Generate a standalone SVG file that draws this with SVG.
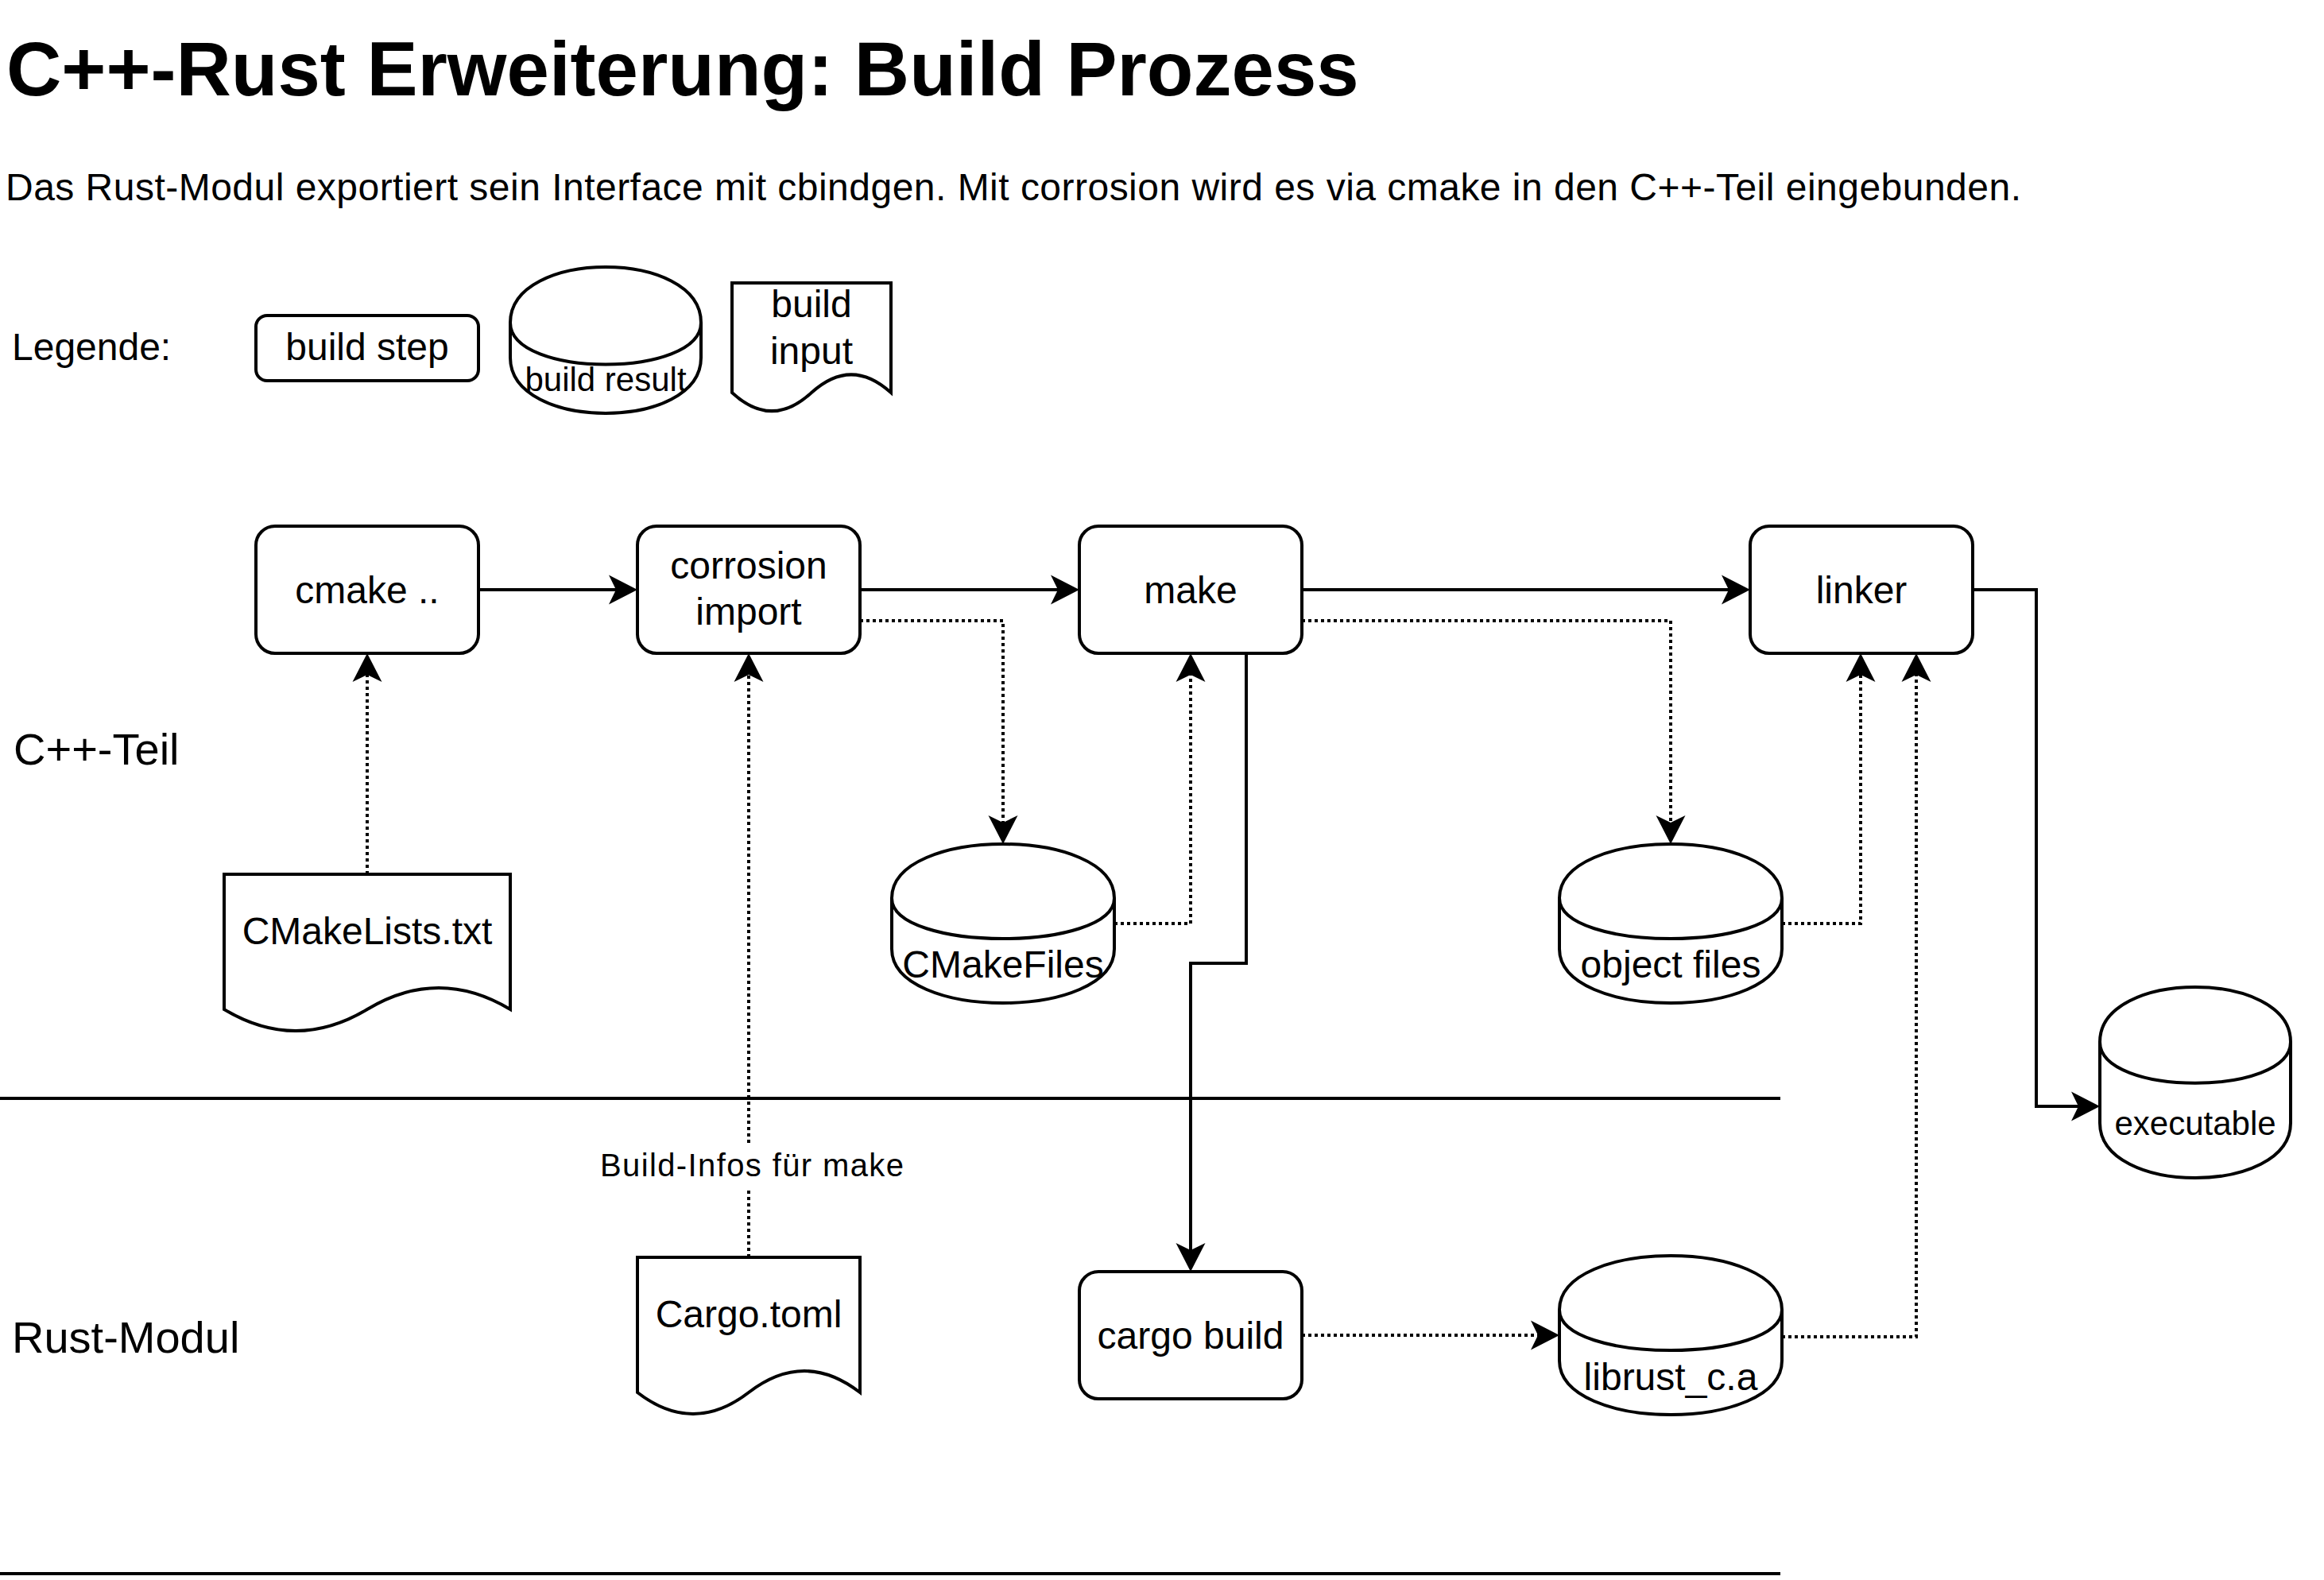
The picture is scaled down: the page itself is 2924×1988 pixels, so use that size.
<svg xmlns="http://www.w3.org/2000/svg" width="2924" height="1988" viewBox="0 0 2924 1988">
<style>
text{font-family:"Liberation Sans",Arial,Helvetica,sans-serif;fill:#000}
.t48{font-size:48px}
.t42{font-size:42px}
.lane{font-size:56px}
.c{text-anchor:middle}
.shape{fill:#fff;stroke:#000;stroke-width:4}
.edge{fill:none;stroke:#000;stroke-width:4}
.dot{stroke-dasharray:4 4}
</style>
<defs>
<marker id="arr" markerUnits="userSpaceOnUse" markerWidth="38" markerHeight="38" refX="9" refY="18.5" orient="auto" overflow="visible">
<path d="M0,0 L36,18.5 L0,37 L9,18.5 Z" fill="#000"/>
</marker>
</defs>
<rect width="2924" height="1988" fill="#fff"/>
<g id="header">
<text x="8" y="120" style="font-size:96px;font-weight:bold">C++-Rust Erweiterung: Build Prozess</text>
<text x="7" y="252" class="t48" textLength="2536" lengthAdjust="spacing">Das Rust-Modul exportiert sein Interface mit cbindgen. Mit corrosion wird es via cmake in den C++-Teil eingebunden.</text>
</g>
<g id="legend">
<text x="15" y="453" class="t48">Legende:</text>
<g id="legend-step"><rect x="322" y="397" width="280" height="82" rx="14" class="shape"/><text x="462" y="453" class="t48 c">build step</text></g>
<g id="legend-result"><path class="shape" d="M642,406 C642,312.67 882,312.67 882,406 L882,450 C882,543.33 642,543.33 642,450 Z M642,406 C642,476 882,476 882,406"/><text x="762" y="492" class="t42 c">build result</text></g>
<g id="legend-input"><path class="shape" d="M921,356 H1121 V494 Q1071,448.6 1021,494 Q971,540.4 921,494 Z"/><text x="1021" y="399" class="t48 c">build</text><text x="1021" y="458" class="t48 c">input</text></g>
</g>
<g id="lanes">
<text x="17" y="962" class="lane">C++-Teil</text>
<text x="15" y="1702" class="lane">Rust-Modul</text>
<path class="edge" d="M0,1382 H2240 M0,1980 H2240"/>
</g>
<g id="connectors">
<path class="edge" d="M602,742 H775" marker-end="url(#arr)"/>
<path class="edge" d="M1082,742 H1331" marker-end="url(#arr)"/>
<path class="edge" d="M1638,742 H2175" marker-end="url(#arr)"/>
<path class="edge" d="M1568,822 V1212 H1498 V1573" marker-end="url(#arr)"/>
<path class="edge" d="M2482,742 H2562 V1392 H2615" marker-end="url(#arr)"/>
<path class="edge dot" d="M462,1100 V849" marker-end="url(#arr)"/>
<path class="edge dot" d="M942,1582 V849" marker-end="url(#arr)"/>
<path class="edge dot" d="M1082,781 H1262 V1035" marker-end="url(#arr)"/>
<path class="edge dot" d="M1402,1162 H1498 V849" marker-end="url(#arr)"/>
<path class="edge dot" d="M1638,781 H2102 V1035" marker-end="url(#arr)"/>
<path class="edge dot" d="M2242,1162 H2341 V849" marker-end="url(#arr)"/>
<path class="edge dot" d="M2242,1682 H2411 V849" marker-end="url(#arr)"/>
<path class="edge dot" d="M1638,1680 H1935" marker-end="url(#arr)"/>
<rect x="752" y="1441" width="390" height="53" fill="#fff"/>
<text x="946" y="1480" class="c" style="font-size:40px" textLength="382" lengthAdjust="spacing">Build-Infos für make</text>
</g>
<g id="cmake"><rect x="322" y="662" width="280" height="160" rx="24" class="shape"/><text x="462" y="759" class="t48 c">cmake ..</text></g>
<g id="corrosion"><rect x="802" y="662" width="280" height="160" rx="24" class="shape"/><text x="942" y="728" class="t48 c">corrosion</text><text x="942" y="786" class="t48 c">import</text></g>
<g id="make"><rect x="1358" y="662" width="280" height="160" rx="24" class="shape"/><text x="1498" y="759" class="t48 c">make</text></g>
<g id="linker"><rect x="2202" y="662" width="280" height="160" rx="24" class="shape"/><text x="2342" y="759" class="t48 c">linker</text></g>
<g id="cargobuild"><rect x="1358" y="1600" width="280" height="160" rx="24" class="shape"/><text x="1498" y="1697" class="t48 c">cargo build</text></g>
<g id="cmakelists"><path class="shape" d="M282,1100 H642 V1270 Q552,1216 462,1270 Q372,1324 282,1270 Z"/><text x="462" y="1188" class="t48 c">CMakeLists.txt</text></g>
<g id="cargotoml"><path class="shape" d="M802,1582 H1082 V1752 Q1012,1698 942,1752 Q872,1806 802,1752 Z"/><text x="942" y="1670" class="t48 c">Cargo.toml</text></g>
<g id="cmakefiles"><path class="shape" d="M1122,1130 C1122,1039.33 1402,1039.33 1402,1130 L1402,1194 C1402,1284.67 1122,1284.67 1122,1194 Z M1122,1130 C1122,1198 1402,1198 1402,1130"/><text x="1262" y="1230" class="t48 c">CMakeFiles</text></g>
<g id="objectfiles"><path class="shape" d="M1962,1130 C1962,1039.33 2242,1039.33 2242,1130 L2242,1194 C2242,1284.67 1962,1284.67 1962,1194 Z M1962,1130 C1962,1198 2242,1198 2242,1130"/><text x="2102" y="1230" class="t48 c">object files</text></g>
<g id="librust"><path class="shape" d="M1962,1648 C1962,1557.33 2242,1557.33 2242,1648 L2242,1712 C2242,1802.67 1962,1802.67 1962,1712 Z M1962,1648 C1962,1716 2242,1716 2242,1648"/><text x="2102" y="1749" class="t48 c">librust_c.a</text></g>
<g id="executable"><path class="shape" d="M2642,1311 C2642,1219 2882,1219 2882,1311 L2882,1413 C2882,1505 2642,1505 2642,1413 Z M2642,1311 C2642,1380 2882,1380 2882,1311"/><text x="2762" y="1428" class="t42 c">executable</text></g>
</svg>
